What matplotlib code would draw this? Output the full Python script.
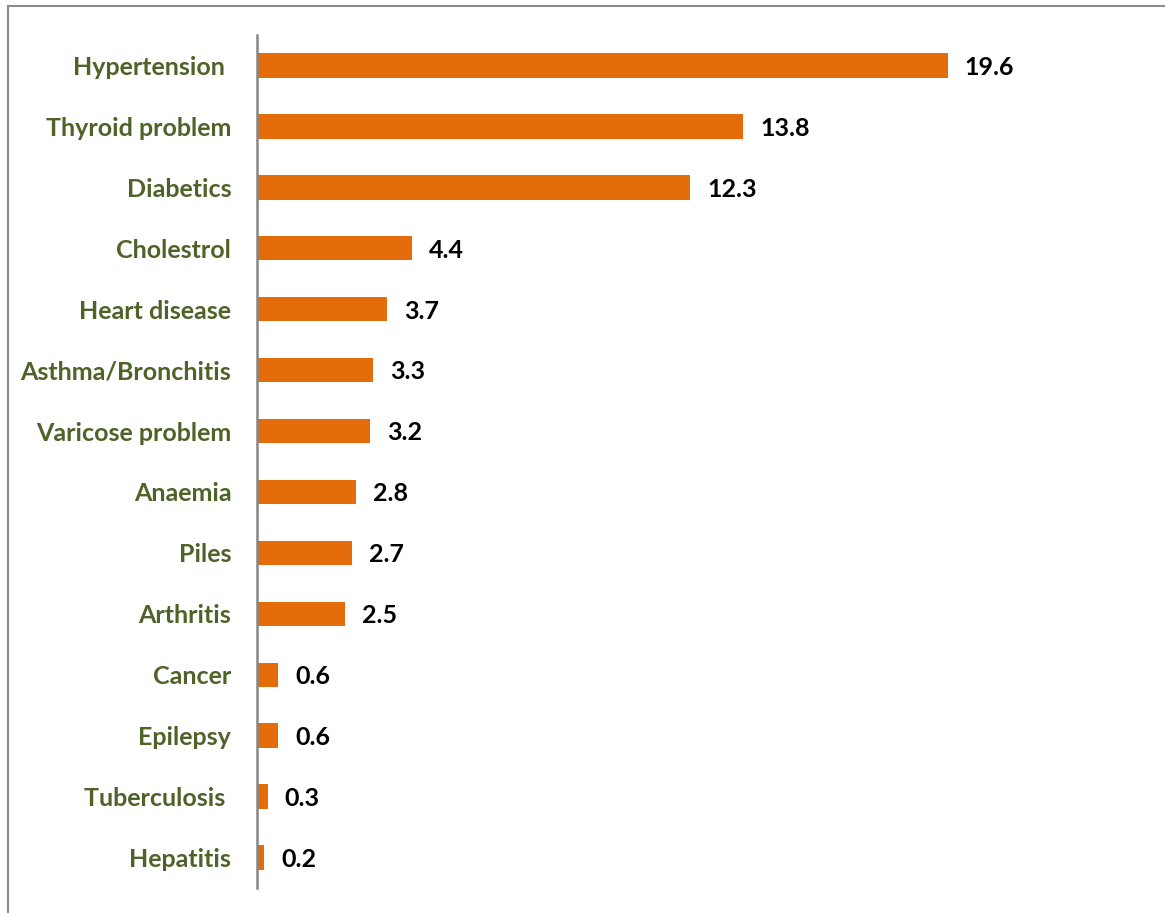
import matplotlib.pyplot as plt
from matplotlib.lines import Line2D

diseases = ["Hypertension ", "Thyroid problem", "Diabetics", "Cholestrol", "Heart disease",
            "Asthma/Bronchitis", "Varicose problem", "Anaemia", "Piles", "Arthritis",
            "Cancer", "Epilepsy", "Tuberculosis ", "Hepatitis"]
percent = [19.6, 13.8, 12.3, 4.4, 3.7, 3.3, 3.2, 2.8, 2.7, 2.5, 0.6, 0.6, 0.3, 0.2]

plt.rcParams['font.family'] = ['Lato', 'DejaVu Sans']

W, H = 1165, 913
fig = plt.figure(figsize=(W / 100, H / 100), dpi=100)
ax = fig.add_axes([257 / W, 25 / H, 881 / W, 853 / H])

ypos = range(len(diseases))
ax.barh(ypos, percent, height=0.4, color="#E46C0A")
ax.set_ylim(len(diseases) - 0.5, -0.5)
ax.set_xlim(0, 25)

for y, v in zip(ypos, percent):
    ax.text(v + 0.48, y + 0.03, f"{v}", va="center", ha="left",
            fontsize=18, fontweight="bold", color="black")

ax.set_yticks(list(ypos))
ax.set_yticklabels(diseases, fontsize=18, fontweight="bold", color="#4F6228")
ax.tick_params(axis="y", length=0, pad=18.5)
ax.set_xticks([])

for s in ["top", "right", "bottom"]:
    ax.spines[s].set_visible(False)
ax.spines["left"].set_color("#868686")
ax.spines["left"].set_linewidth(1.8)

# outer frame (left and top edges)
fig.add_artist(Line2D([7.5 / W, 7.5 / W], [0, 1 - 6.5 / H], transform=fig.transFigure,
                      color="#8c8c8c", lw=1.5))
fig.add_artist(Line2D([7.5 / W, 1], [1 - 6.5 / H, 1 - 6.5 / H], transform=fig.transFigure,
                      color="#8c8c8c", lw=1.5))

fig.savefig("out.png", dpi=100)
